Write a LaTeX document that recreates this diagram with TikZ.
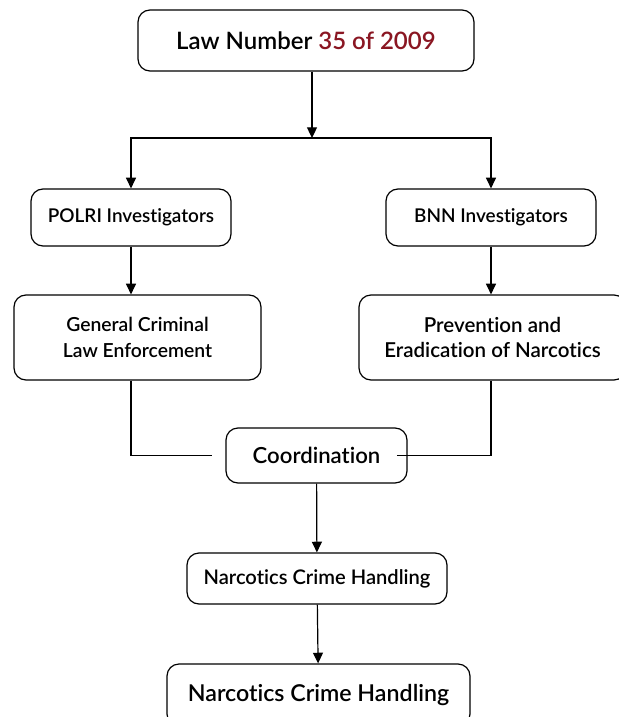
\documentclass[tikz,border=0pt]{standalone}
\usepackage{fontspec}
\setmainfont{Lato}[UprightFont={* Semibold}, RawFeature={-liga}]
\usetikzlibrary{arrows.meta}
\definecolor{lawred}{HTML}{8A1622}
\tikzset{
  box/.style={draw, fill=white, rounded corners=9pt, line width=0.9pt, align=center, inner sep=0pt},
  link/.style={line width=0.9pt},
  arr/.style={link, -{Triangle[width=7.5pt,length=8pt]}},
}
\begin{document}
\begin{tikzpicture}[x=0.75pt,y=-0.75pt]
\useasboundingbox (0,0) rectangle (618,717);
% boxes
\node[box, minimum width=252pt, minimum height=45.75pt, font=\fontsize{18}{20}\selectfont] (law) at (306,40.5) {Law Number \textcolor{lawred}{35 of 2009}};
\node[box, minimum width=150pt, minimum height=42.75pt, font=\fontsize{14.2}{17}\selectfont] (polri) at (131,217.5) {POLRI Investigators};
\node[box, minimum width=157.5pt, minimum height=42.75pt, font=\fontsize{14.2}{17}\selectfont] (bnn) at (491,217.5) {BNN Investigators};
\node[box, minimum width=185.25pt, minimum height=63.75pt, font=\fontsize{14.5}{19}\selectfont] (general) at (137.5,337.5) {General Criminal\\Law Enforcement};
\node[box, minimum width=200.25pt, minimum height=63.75pt, font=\fontsize{15.4}{19}\selectfont] (prevention) at (492.5,337.5) {Prevention and\\Eradication of Narcotics};
\node[box, minimum width=135.75pt, minimum height=41.25pt, font=\fontsize{16.6}{19}\selectfont] (coord) at (316.5,455.5) {Coordination};
\node[box, minimum width=195pt, minimum height=38.25pt, font=\fontsize{15.1}{17}\selectfont] (crime) at (317,578.5) {Narcotics Crime Handling};
\node[box, minimum width=227.25pt, minimum height=46.5pt, font=\fontsize{17.4}{20}\selectfont] (handling) at (318.5,695) {Narcotics Crime Handling};
% split under the law
\coordinate (split) at (312,138);
\draw[arr] (law.south -| split) -- (split);
\draw[arr] (split) -| (polri);
\draw[arr] (split) -| (bnn);
\draw[arr] (polri) -- (general.north -| polri);
\draw[arr] (bnn) -- (prevention.north -| bnn);
% coordination lines
\coordinate (cleft) at ([xshift=-10pt]coord.west);
\coordinate (cright) at ([xshift=-8pt]coord.east);
\draw[link] (general.south -| polri) |- (cleft);
\draw[link] (cright) -| (prevention.south -| bnn);
\draw[arr] (coord) -- (crime);
\draw[arr] (crime) -- (handling);
\end{tikzpicture}
\end{document}
